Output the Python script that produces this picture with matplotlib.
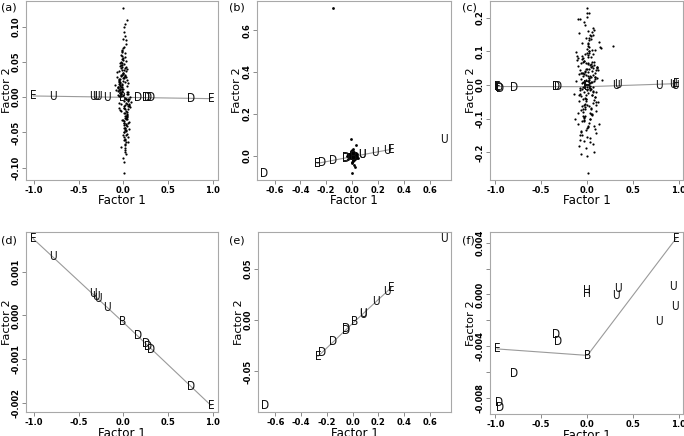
import matplotlib
matplotlib.use('Agg')
import matplotlib.pyplot as plt

# ---- item labels for the three loading sets ----
set1_lab = ['E', 'U', 'U', 'U', 'U', 'U', 'B', 'D', 'D', 'D', 'D', 'D', 'E']
set1_x = [-1.01, -0.79, -0.34, -0.31, -0.28, -0.18, -0.01, 0.16, 0.25, 0.28, 0.31, 0.76, 0.98]
set1_y = [0.00175, 0.00134, 0.00049, 0.00044, 0.00039, 0.00019, -0.00014,
          -0.00046, -0.00065, -0.00071, -0.00077, -0.00163, -0.00205]
set1_line = [0, 6, 12]

set2_lab = ['D', 'E', 'D', 'D', 'D', 'D', 'B', 'U', 'U', 'U', 'U', 'E', 'U']
set2_x = [-0.68, -0.27, -0.235, -0.15, -0.05, -0.05, 0.015, 0.08, 0.08, 0.18, 0.27, 0.30, 0.71]
set2_y = [-0.083, -0.0355, -0.0316, -0.021, -0.008, -0.010, -0.0016,
          0.0052, 0.0062, 0.0177, 0.0274, 0.0313, 0.079]
set2_line = [1, 6, 11]

set3_lab = ['D', 'D', 'E', 'D', 'D', 'D', 'B', 'H', 'H', 'U', 'U', 'U', 'U', 'U', 'E']
set3_x = [-0.96, -0.95, -0.98, -0.79, -0.34, -0.32, 0.005, 0.0, 0.0,
          0.32, 0.34, 0.78, 0.96, 0.94, 0.97]
set3_y = [-0.0083, -0.0087, -0.0042, -0.0061, -0.0031, -0.0036, -0.0047, 0.0003, 0.0001,
          -0.0001, 0.0005, -0.0021, -0.0009, 0.0006, 0.0043]
set3_line = [2, 6, 14]

# ---- person scores (clouds) ----
cloud_a_x = [
    -0.018, 0.012, 0.032, -0.045, 0.005, 0.023, -0.009, 0.041, -0.027, 0.002,
    0.015, -0.036, 0.051, -0.003, 0.029, -0.017, 0.009, -0.056, 0.020, 0.036,
    -0.012, 0.003, -0.023, 0.044, -0.041, 0.017, 0.062, -0.006, 0.026, -0.030,
    0.008, -0.050, 0.033, 0.014, -0.020, 0.047, -0.002, 0.021, -0.068, 0.011,
    0.039, -0.014, 0.027, -0.033, 0.003, 0.054, -0.024, 0.018, -0.042, 0.030,
    -0.008, 0.059, -0.029, 0.006, 0.024, -0.047, 0.038, -0.015, 0.012, -0.060,
    0.050, -0.005, 0.035, -0.021, 0.071, -0.038, 0.009, 0.023, -0.011, 0.042,
    -0.053, 0.017, 0.002, -0.026, 0.045, -0.018, 0.029, -0.078, 0.014, 0.005,
    -0.032, 0.056, -0.009, 0.020, -0.044, 0.033, 0.000, -0.057, 0.026, 0.066,
    -0.017, 0.039, -0.035, 0.008, 0.048, -0.003, 0.015, -0.024, 0.087, -0.039,
    0.021, -0.012, 0.032, -0.051, 0.011, 0.044, -0.020, 0.003, 0.027, -0.065,
    0.036, -0.029, 0.053, -0.006, 0.018, -0.041, 0.060, -0.014, 0.006, 0.024,
    -0.048, 0.030, -0.002, 0.041, -0.023, 0.014, -0.072, 0.047, -0.011, 0.020,
    0.005, -0.033, 0.026, -0.017, 0.057, -0.045, 0.039, 0.035, -0.027, 0.002,
    0.044, -0.008, 0.017, -0.054, 0.029, 0.063, -0.021, 0.012, -0.036, 0.023,
    -0.015, 0.050, -0.042, 0.006, 0.033, -0.005, 0.075, -0.030, 0.018, -0.062,
    0.027, -0.011, 0.039, 0.024, 0.003, 0.051, -0.038, 0.015, -0.002, 0.032,
    -0.090, 0.021, -0.018, 0.045, -0.050, 0.008, 0.029, -0.009, 0.059, -0.032]
cloud_a_y = [
    0.012, -0.034, 0.051, -0.008, 0.027, -0.061, 0.003, 0.040, -0.019, 0.071,
    -0.044, 0.018, -0.002, 0.033, -0.026, 0.058, -0.013, 0.009, -0.072, 0.024,
    0.046, -0.037, 0.015, -0.052, 0.006, 0.030, -0.010, 0.083, -0.029, 0.001,
    -0.015, 0.037, -0.048, 0.021, 0.064, -0.004, 0.011, -0.067, 0.029, -0.022,
    0.008, 0.049, -0.031, 0.016, -0.056, -0.017, 0.042, -0.001, 0.026, -0.040,
    0.035, -0.011, 0.004, 0.092, -0.046, 0.019, -0.027, 0.054, -0.006, 0.013,
    -0.036, 0.023, -0.081, 0.045, -0.014, 0.007, -0.050, 0.031, 0.067, -0.024,
    0.002, -0.059, 0.038, -0.009, 0.016, -0.033, 0.076, 0.010, -0.043, 0.028,
    -0.018, 0.005, 0.053, -0.068, 0.022, -0.003, 0.127, 0.014, -0.038, -0.012,
    0.039, -0.025, 0.010, -0.092, 0.020, -0.054, 0.062, 0.032, -0.007, 0.048,
    -0.030, 0.017, -0.063, 0.025, 0.099, -0.041, 0.008, -0.016, 0.043, 0.003,
    -0.021, 0.060, -0.005, 0.034, -0.075, 0.011, -0.035, 0.019, -0.108, 0.041,
    0.026, -0.046, 0.070, -0.028, 0.005, -0.011, 0.036, -0.057, 0.015, 0.087,
    -0.039, 0.044, -0.020, 0.009, -0.064, 0.023, 0.110, -0.008, 0.030, -0.049,
    0.004, -0.032, 0.057, -0.015, 0.028, -0.003, -0.070, 0.047, 0.012, -0.026,
    0.066, -0.012, 0.020, -0.044, 0.037, -0.086, 0.000, 0.050, -0.023, 0.015,
    -0.053, 0.031, -0.009, 0.104, -0.037, 0.007, 0.022, -0.017, 0.055, -0.002,
    0.018, -0.078, 0.043, -0.031, 0.010, -0.060, 0.081, 0.027, -0.045, 0.006]

cloud_b_x = [
    -0.019, 0.010, 0.029, -0.006, 0.016, -0.032, 0.003, 0.022, -0.013, 0.000,
    0.035, -0.024, 0.008, -0.003, 0.019, -0.016, 0.026, 0.005, -0.010, 0.013,
    -0.029, 0.018, 0.002, -0.040, 0.032, -0.005, 0.011, -0.021, 0.024, 0.006,
    0.014, -0.011, 0.040, -0.026, 0.003, 0.021, -0.002, -0.035, 0.010, 0.027,
    -0.014, 0.005, 0.030, -0.008, 0.016, -0.022, 0.002, 0.045, -0.005, 0.011,
    -0.010, 0.033, 0.015, 0.003, 0.020, -0.150, -0.030, 0.035, 0.004, -0.004]
cloud_b_y = [
    0.004, -0.010, 0.016, -0.003, 0.008, -0.014, 0.021, 0.000, -0.007, 0.012,
    -0.002, 0.010, -0.018, 0.006, -0.012, 0.002, 0.014, -0.005, 0.025, -0.009,
    0.007, -0.020, 0.011, 0.001, -0.004, 0.018, -0.015, 0.009, 0.003, -0.024,
    0.013, 0.005, -0.008, -0.001, 0.028, -0.013, -0.006, 0.008, -0.017, 0.002,
    -0.011, 0.019, -0.003, 0.010, 0.000, 0.006, -0.028, -0.010, 0.015, 0.026,
    0.082, 0.052, -0.042, -0.082, -0.055, 0.707, 0.003, 0.010, 0.035, -0.035]

cloud_c_x = [
    -0.031, 0.052, 0.014, -0.078, 0.006, 0.095, -0.044, 0.027, -0.012, 0.063,
    0.038, -0.021, 0.071, -0.057, 0.002, 0.046, -0.089, 0.019, -0.034, 0.110,
    -0.005, 0.033, -0.066, 0.080, -0.017, 0.058, 0.011, -0.102, 0.041, -0.026,
    0.087, -0.049, 0.024, -0.008, 0.067, -0.073, 0.035, 0.004, -0.038, 0.121,
    -0.060, 0.017, 0.049, -0.022, 0.092, -0.014, -0.115, 0.030, 0.075, -0.043,
    0.009, -0.081, 0.056, 0.023, -0.030, 0.104, -0.052, 0.013, -0.003, 0.069,
    -0.095, 0.040, -0.011, 0.083, -0.063, 0.020, 0.131, -0.036, 0.054, -0.019,
    0.028, -0.070, 0.007, 0.062, -0.046, 0.098, -0.025, 0.043, -0.128, 0.015,
    -0.009, 0.076, -0.055, 0.031, 0.115, -0.040, 0.001, -0.084, 0.050, -0.015,
    0.066, -0.028, 0.090, -0.067, 0.021, -0.004, 0.045, -0.108, 0.036, 0.142,
    -0.047, 0.012, -0.076, 0.058, 0.003, -0.033, 0.085, -0.020, 0.026, -0.059,
    0.100, -0.012, 0.039, -0.094, 0.070, 0.016, -0.041, 0.123, 0.012, 0.005,
    0.034, -0.053, 0.077, -0.024, 0.010, -0.140, 0.047, -0.007, 0.089, -0.037,
    -0.018, 0.060, -0.083, 0.025, -0.050, 0.107, 0.002, -0.029, 0.072, -0.098,
    0.044, -0.064, 0.018, 0.093, -0.013, 0.037, -0.075, 0.150, -0.042, 0.022,
    -0.086, 0.055, -0.001, 0.030, -0.112, 0.079, -0.023, 0.008, 0.061, -0.056,
    0.013, -0.035, 0.101, -0.072, 0.042, -0.010, 0.068, -0.045, 0.134, -0.002,
    0.052, -0.092, 0.026, -0.016, 0.084, -0.061, 0.015, 0.048, -0.027, 0.165,
    -0.039, 0.074, -0.120, 0.011, 0.036, -0.051, 0.096, -0.006, 0.029, -0.079,
    0.057, -0.019, 0.000, -0.099, 0.064, 0.019, -0.032, 0.113, -0.062, 0.280]
cloud_c_y = [
    0.034, -0.087, 0.121, -0.015, 0.063, -0.142, 0.008, 0.095, -0.046, 0.170,
    -0.101, 0.041, -0.006, 0.077, -0.060, 0.136, -0.030, 0.022, -0.166, 0.055,
    0.108, -0.083, 0.036, -0.121, 0.013, 0.070, -0.024, 0.195, -0.068, 0.003,
    -0.035, 0.086, -0.112, 0.049, 0.150, -0.010, 0.026, -0.155, 0.068, -0.051,
    0.018, 0.114, -0.072, 0.038, -0.130, -0.040, 0.098, -0.003, 0.061, -0.093,
    0.082, -0.026, 0.010, 0.213, -0.107, 0.045, -0.063, 0.126, -0.014, 0.030,
    -0.084, 0.054, -0.188, 0.105, -0.033, 0.016, -0.116, 0.072, 0.157, -0.056,
    0.005, -0.137, 0.089, -0.021, 0.037, -0.077, 0.177, 0.023, -0.100, 0.065,
    -0.042, 0.012, 0.124, -0.158, 0.051, -0.007, 0.230, 0.033, -0.088, -0.028,
    0.091, -0.058, 0.024, -0.205, 0.047, -0.126, 0.145, 0.075, -0.016, 0.112,
    -0.070, 0.040, -0.147, 0.058, 0.201, -0.095, 0.019, -0.037, 0.100, 0.007,
    -0.049, 0.140, -0.012, 0.079, -0.175, 0.026, -0.081, 0.044, -0.262, 0.096,
    0.061, -0.107, 0.163, -0.065, 0.011, -0.026, 0.084, -0.133, 0.035, 0.186,
    -0.091, 0.103, -0.047, 0.021, -0.149, 0.054, 0.215, -0.019, 0.070, -0.114,
    0.009, -0.074, 0.133, -0.035, 0.065, -0.008, -0.163, 0.110, 0.028, -0.061,
    0.154, -0.028, 0.047, -0.102, 0.086, -0.200, 0.000, 0.117, -0.054, 0.035,
    -0.124, 0.072, -0.021, 0.196, -0.086, 0.016, 0.051, -0.040, 0.128, -0.005,
    0.042, -0.182, 0.100, -0.072, 0.023, -0.140, 0.160, 0.063, -0.105, 0.014,
    0.080, -0.044, 0.013, -0.120, 0.150, -0.011, -0.060, 0.029, -0.170, 0.046,
    -0.030, 0.093, -0.210, 0.057, -0.018, 0.139, -0.098, 0.020, 0.067, 0.116]

# ---- ticks ----
xt_wide = [-1.0, -0.5, 0.0, 0.5, 1.0]
xt_wide_lab = ['-1.0', '-0.5', '0.0', '0.5', '1.0']
xt_mid = [-0.6, -0.4, -0.2, 0.0, 0.2, 0.4, 0.6]
xt_mid_lab = ['-0.6', '-0.4', '-0.2', '0.0', '0.2', '0.4', '0.6']
yt_a = [-0.10, -0.05, 0.0, 0.05, 0.10]
yt_a_lab = ['-0.10', '-0.05', '0.00', '0.05', '0.10']
yt_b = [0.0, 0.2, 0.4, 0.6]
yt_b_lab = ['0.0', '0.2', '0.4', '0.6']
yt_c = [-0.2, -0.1, 0.0, 0.1, 0.2]
yt_c_lab = ['-0.2', '-0.1', '0.0', '0.1', '0.2']
yt_d = [-0.002, -0.001, 0.0, 0.001]
yt_d_lab = ['-0.002', '-0.001', '0.000', '0.001']
yt_e = [-0.05, 0.0, 0.05]
yt_e_lab = ['-0.05', '0.00', '0.05']
yt_f = [-0.008, -0.006, -0.004, -0.002, 0.0, 0.002, 0.004]
yt_f_lab = ['-0.008', '', '-0.004', '', '0.000', '', '0.004']

W, H = 684, 436
fig = plt.figure(figsize=(W / 100, H / 100), dpi=100)


def make_panel(rect_px, tag, tag_xy, labs, lx, ly, line_idx, xt, xtl, yt, ytl,
               cx=None, cy=None, dot=2.5):
    l, t, r, b = rect_px
    wpx, hpx = r - l, b - t
    ax = fig.add_axes([l / W, 1 - b / H, wpx / W, hpx / H])
    if cx is not None:
        ax.scatter(cx, cy, s=dot, c='k', linewidths=0, zorder=3)
    # invisible line so the letters take part in autoscaling
    ax.plot(lx, ly, ls='none')
    ax.plot([lx[i] for i in line_idx], [ly[i] for i in line_idx],
            color='#9a9a9a', lw=0.8, zorder=2)
    for s, x, y in zip(labs, lx, ly):
        ax.text(x, y, s, ha='center', va='center', fontsize=8.5,
                family='DejaVu Sans', fontstretch='condensed',
                color='#111111', zorder=4)
    ax.margins(0.04)
    ax.set_xticks(xt, xtl)
    ax.set_yticks(yt, ytl)
    ax.tick_params(length=3, width=0.6, pad=1.5, labelsize=6, color='#777777')
    ax.tick_params(axis='y', pad=1)
    for lab in ax.get_xticklabels():
        lab.set_fontweight('bold')
    for lab in ax.get_yticklabels():
        lab.set_fontweight('bold')
        lab.set_rotation(90)
        lab.set_va('center')
    for sp in ax.spines.values():
        sp.set_color('#a8a8a8')
        sp.set_linewidth(0.8)
    ax.set_xlabel('Factor 1', fontsize=8.6)
    ax.set_ylabel('Factor 2', fontsize=8.2)
    ax.xaxis.set_label_coords(0.5, -14.5 / hpx)
    ax.yaxis.set_label_coords(-14.5 / wpx, 0.5)
    fig.text(tag_xy[0] / W, 1 - tag_xy[1] / H, tag, fontsize=8,
             ha='left', va='center')
    return ax


make_panel((26, 1, 218, 180), '(a)', (1, 7), set1_lab, set1_x, set1_y, set1_line,
           xt_wide, xt_wide_lab, yt_a, yt_a_lab, cloud_a_x, cloud_a_y)
make_panel((257, 1, 451, 180), '(b)', (229, 7), set2_lab, set2_x, set2_y, set2_line,
           xt_mid, xt_mid_lab, yt_b, yt_b_lab, cloud_b_x, cloud_b_y, dot=4)
make_panel((490, 1, 683, 180), '(c)', (462, 7), set3_lab, set3_x, set3_y, set3_line,
           xt_wide, xt_wide_lab, yt_c, yt_c_lab, cloud_c_x, cloud_c_y)
make_panel((26, 232, 218, 412), '(d)', (1, 240), set1_lab, set1_x, set1_y, set1_line,
           xt_wide, xt_wide_lab, yt_d, yt_d_lab)
make_panel((258, 232, 451, 412), '(e)', (229, 240), set2_lab, set2_x, set2_y, set2_line,
           xt_mid, xt_mid_lab, yt_e, yt_e_lab)
make_panel((490, 232, 683, 414), '(f)', (462, 240), set3_lab, set3_x, set3_y, set3_line,
           xt_wide, xt_wide_lab, yt_f, yt_f_lab)

fig.savefig('out.png', dpi=100)
